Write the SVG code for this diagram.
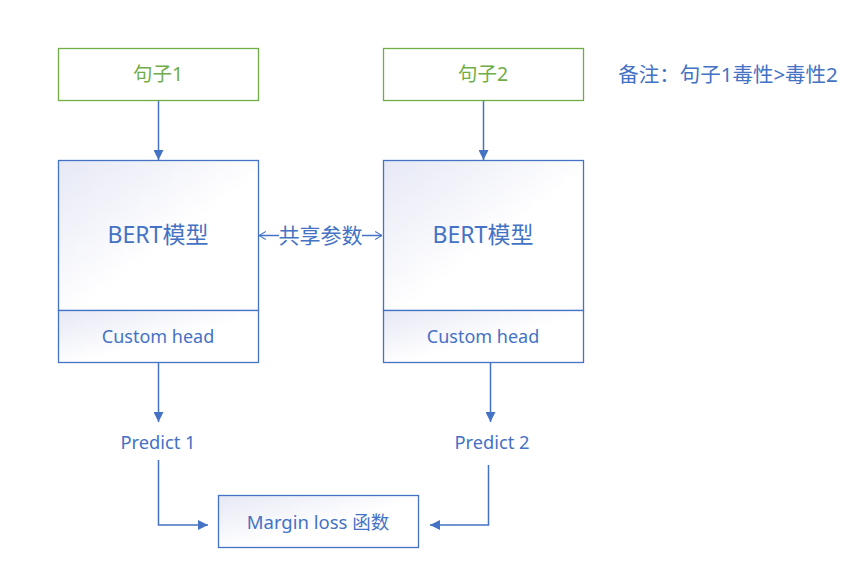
<svg xmlns="http://www.w3.org/2000/svg" width="848" height="562" viewBox="0 0 848 562">
<defs>
<linearGradient id="g" x1="0" y1="0" x2="1" y2="1">
<stop offset="0" stop-color="#E6E8F5"/>
<stop offset="0.55" stop-color="#FFFFFF"/>
<stop offset="1" stop-color="#FFFFFF"/>
</linearGradient>
<marker id="a" viewBox="0 0 10 10" refX="10" refY="5" markerWidth="10" markerHeight="10" markerUnits="userSpaceOnUse" orient="auto">
<path d="M0,0 L10,5 L0,10 Z" fill="#4472C4"/>
</marker>
<marker id="o" viewBox="0 0 10 12" refX="9.5" refY="6" markerWidth="8" markerHeight="10" markerUnits="userSpaceOnUse" orient="auto">
<path d="M1,1 L9.5,6 L1,11" fill="none" stroke="#4472C4" stroke-width="1.3"/>
</marker>
</defs>
<style>
text{font-family:"Noto Sans","Noto Sans CJK SC",sans-serif;fill:#4472C4;text-anchor:middle}
.box{fill:url(#g);stroke:#4472C4;stroke-width:1.3}
.in{fill:#FFFFFF;stroke:#70AD47;stroke-width:1.3}
.gt{fill:#70AD47}
.c{fill:none;stroke:#4472C4;stroke-width:1.5}
</style>
<rect width="848" height="562" fill="#FFFFFF"/>
<g id="s1"><rect class="in" x="58.5" y="48.5" width="200" height="52"/><text class="gt" x="158" y="81" font-size="19.5">句子1</text></g>
<g id="s2"><rect class="in" x="383.5" y="48.5" width="200" height="52"/><text class="gt" x="483" y="81" font-size="19.5">句子2</text></g>
<g id="bert1"><rect class="box" x="58.5" y="160.5" width="200" height="150"/><text x="158" y="243" font-size="23">BERT模型</text></g>
<g id="head1"><rect class="box" x="58.5" y="310.5" width="200" height="52"/><text x="158" y="343" font-size="18">Custom head</text></g>
<g id="bert2"><rect class="box" x="383.5" y="160.5" width="200" height="150"/><text x="483" y="243" font-size="23">BERT模型</text></g>
<g id="head2"><rect class="box" x="383.5" y="310.5" width="200" height="52"/><text x="483" y="343" font-size="18">Custom head</text></g>
<g id="p1"><text x="158" y="449" font-size="18.3">Predict 1</text></g>
<g id="p2"><text x="492" y="449" font-size="18.3">Predict 2</text></g>
<g id="loss"><rect class="box" x="218.5" y="495.5" width="200" height="52"/><text x="318" y="529" font-size="18.5">Margin loss 函数</text></g>
<g id="note"><text x="728" y="82" font-size="20.5">备注：句子1毒性&gt;毒性2</text></g>
<g id="shared"><text x="320.5" y="242.5" font-size="21">共享参数</text></g>
<g id="connectors">
<path class="c" d="M158.5,101 V160" marker-end="url(#a)"/>
<path class="c" d="M483.5,101 V160" marker-end="url(#a)"/>
<path class="c" d="M158.5,363 V422" marker-end="url(#a)"/>
<path class="c" d="M490.5,363 V422" marker-end="url(#a)"/>
<path class="c" d="M158.5,460 V525 H208" marker-end="url(#a)"/>
<path class="c" d="M488.5,465 V525 H430" marker-end="url(#a)"/>
<path class="c" d="M279,235.5 H259" stroke-width="1.3" marker-end="url(#o)"/>
<path class="c" d="M362,235.5 H382" stroke-width="1.3" marker-end="url(#o)"/>
</g>
</svg>
